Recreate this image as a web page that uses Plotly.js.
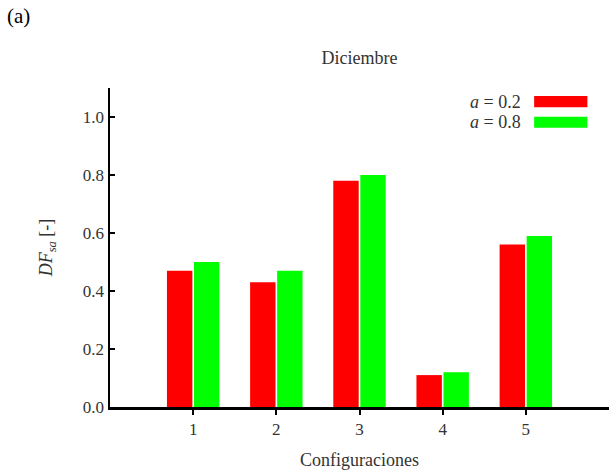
<!DOCTYPE html>
<html>
<head>
<meta charset="utf-8">
<script src="https://cdn.plot.ly/plotly-3.0.1.min.js"></script>
<style>html,body{margin:0;padding:0;background:#fff;}#chart{width:609px;height:472px;}</style>
</head>
<body>
<div id="chart"></div>
<script>
const categories = [1, 2, 3, 4, 5];
const seriesNames = ["a = 0.2", "a = 0.8"];
const seriesLabelsHtml = ["<i>a</i> = 0.2", "<i>a</i> = 0.8"];
const valuesA02 = [0.47, 0.43, 0.78, 0.11, 0.56];
const valuesA08 = [0.50, 0.47, 0.80, 0.12, 0.59];
const seriesColors = ["#ff0000", "#00ff00"];
const yTicks = [0.0, 0.2, 0.4, 0.6, 0.8, 1.0];
const yTickText = ["0.0", "0.2", "0.4", "0.6", "0.8", "1.0"];

const font = "Liberation Serif, DejaVu Serif, serif";
const seriesValues = [valuesA02, valuesA08];

const traces = seriesValues.map((vals, i) => ({
  type: "bar",
  name: seriesNames[i],
  x: categories,
  y: vals,
  marker: {color: seriesColors[i], line: {width: 0}},
  showlegend: false,
  hoverinfo: "x+y"
}));

// Legend drawn manually (text on the left, swatch on the right)
const legendY = [1.053, 0.982];
const annotations = seriesLabelsHtml.map((t, i) => ({
  text: t, xref: "x", yref: "y", x: 4.97, y: legendY[i],
  xanchor: "right", yanchor: "middle", showarrow: false,
  font: {family: font, size: 18, color: "#333"}
}));
annotations.push({
  text: "(a)", xref: "paper", yref: "paper", x: -0.21, y: 1.27,
  xanchor: "left", yanchor: "top", showarrow: false,
  font: {family: font, size: 21, color: "#000"}
});
const shapes = seriesColors.map((c, i) => ({
  type: "rect", xref: "x", yref: "y",
  x0: 5.1, x1: 5.74, y0: legendY[i] - 0.019, y1: legendY[i] + 0.019,
  fillcolor: c, line: {width: 0}
}));

const layout = {
  width: 609, height: 472,
  margin: {l: 110, r: 0, t: 88, b: 65},
  paper_bgcolor: "#fff", plot_bgcolor: "#fff",
  barmode: "group", bargap: 0.35, bargroupgap: 0.06,
  title: {text: "Diciembre", x: 0.5, xref: "paper", y: 0.877, yanchor: "middle",
          font: {family: font, size: 18, color: "#333"}},
  xaxis: {
    range: [0, 6], tickvals: categories, ticktext: categories.map(String),
    showgrid: false, zeroline: false, showline: true, linecolor: "#000", linewidth: 2.5,
    ticks: "outside", ticklen: 5, tickwidth: 2, tickcolor: "#000",
    tickfont: {family: font, size: 17, color: "#333"},
    title: {text: "Configuraciones", font: {family: font, size: 18, color: "#333"}, standoff: 16}
  },
  yaxis: {
    range: [0, 1.1], tickvals: yTicks, ticktext: yTickText,
    showgrid: false, zeroline: false, showline: true, linecolor: "#000", linewidth: 2.5,
    ticks: "inside", ticklen: 5, tickwidth: 2, tickcolor: "#000",
    tickfont: {family: font, size: 17, color: "#333"},
    title: {text: "<i>DF</i><sub><i>sa</i></sub> [-]", font: {family: font, size: 18, color: "#333"}, standoff: 26}
  },
  annotations: annotations,
  shapes: shapes,
  showlegend: false
};

Plotly.newPlot("chart", traces, layout, {displayModeBar: false, staticPlot: true});
</script>
</body>
</html>
